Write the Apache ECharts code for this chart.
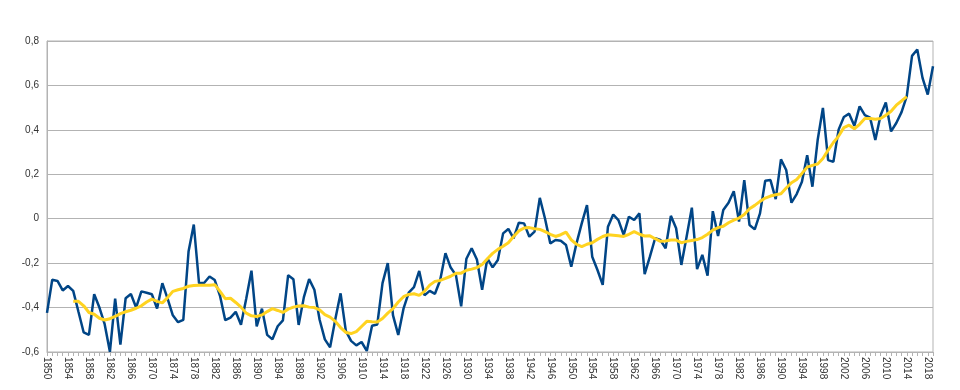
<!DOCTYPE html>
<html>
<head>
<meta charset="utf-8">
<script src="https://cdn.jsdelivr.net/npm/echarts@6/dist/echarts.min.js"></script>
<style>
html,body{margin:0;padding:0;background:#fff;}
#c{width:960px;height:390px;}
</style>
</head>
<body>
<div id="c"></div>
<script>
const firstYear = 1850;
const lastYear = 2019;
const years = [];
for (let y = firstYear; y <= lastYear; y++) years.push(String(y));

// Annual anomaly (blue), 1850-2019
const annual1850s = [-0.424,-0.275,-0.280,-0.323,-0.303,-0.325,-0.419,-0.512,-0.523,-0.340];
const annual1860s = [-0.400,-0.475,-0.599,-0.360,-0.567,-0.358,-0.339,-0.400,-0.327,-0.333];
const annual1870s = [-0.340,-0.404,-0.290,-0.360,-0.435,-0.466,-0.455,-0.148,-0.026,-0.290];
const annual1880s = [-0.288,-0.260,-0.276,-0.347,-0.457,-0.445,-0.419,-0.477,-0.360,-0.234];
const annual1890s = [-0.485,-0.405,-0.523,-0.543,-0.484,-0.458,-0.254,-0.272,-0.478,-0.353];
const annual1900s = [-0.272,-0.320,-0.455,-0.543,-0.579,-0.452,-0.336,-0.505,-0.550,-0.570];
const annual1910s = [-0.555,-0.595,-0.482,-0.476,-0.290,-0.200,-0.435,-0.523,-0.405,-0.333];
const annual1920s = [-0.308,-0.235,-0.345,-0.325,-0.338,-0.276,-0.155,-0.220,-0.254,-0.394];
const annual1930s = [-0.180,-0.133,-0.184,-0.320,-0.178,-0.219,-0.186,-0.066,-0.046,-0.088];
const annual1940s = [-0.018,-0.021,-0.081,-0.058,0.094,0.000,-0.111,-0.096,-0.099,-0.118];
const annual1950s = [-0.216,-0.111,-0.021,0.061,-0.171,-0.231,-0.298,-0.036,0.019,-0.006];
const annual1960s = [-0.073,0.009,-0.006,0.024,-0.249,-0.171,-0.088,-0.096,-0.133,0.013];
const annual1970s = [-0.043,-0.208,-0.081,0.050,-0.227,-0.163,-0.256,0.034,-0.078,0.039];
const annual1980s = [0.072,0.124,-0.013,0.174,-0.028,-0.048,0.024,0.171,0.174,0.088];
const annual1990s = [0.267,0.219,0.072,0.111,0.166,0.286,0.144,0.354,0.499,0.264];
const annual2000s = [0.256,0.401,0.458,0.473,0.418,0.506,0.466,0.455,0.354,0.466];
const annual2010s = [0.523,0.393,0.431,0.480,0.552,0.733,0.762,0.634,0.559,0.686];

// Smoothed curve (yellow), 1855-2014
const smooth1850s = [null,null,null,null,null,-0.371,-0.372,-0.392,-0.422,-0.430];
const smooth1860s = [-0.448,-0.456,-0.450,-0.440,-0.427,-0.419,-0.412,-0.403,-0.392,-0.375];
const smooth1870s = [-0.362,-0.372,-0.379,-0.355,-0.327,-0.320,-0.314,-0.304,-0.301,-0.300];
const smooth1880s = [-0.300,-0.300,-0.297,-0.327,-0.360,-0.358,-0.377,-0.398,-0.425,-0.437];
const smooth1890s = [-0.440,-0.433,-0.418,-0.405,-0.413,-0.422,-0.407,-0.398,-0.393,-0.392];
const smooth1900s = [-0.398,-0.400,-0.410,-0.432,-0.443,-0.462,-0.490,-0.512,-0.517,-0.508];
const smooth1910s = [-0.485,-0.462,-0.464,-0.465,-0.449,-0.425,-0.405,-0.375,-0.351,-0.341];
const smooth1920s = [-0.338,-0.345,-0.327,-0.299,-0.282,-0.278,-0.269,-0.259,-0.246,-0.245];
const smooth1930s = [-0.232,-0.227,-0.220,-0.206,-0.180,-0.156,-0.138,-0.124,-0.108,-0.080];
const smooth1940s = [-0.055,-0.042,-0.040,-0.045,-0.048,-0.058,-0.070,-0.080,-0.072,-0.060];
const smooth1950s = [-0.095,-0.115,-0.126,-0.115,-0.108,-0.093,-0.080,-0.072,-0.074,-0.077];
const smooth1960s = [-0.080,-0.070,-0.058,-0.070,-0.078,-0.077,-0.090,-0.102,-0.100,-0.096];
const smooth1970s = [-0.096,-0.108,-0.102,-0.098,-0.094,-0.085,-0.070,-0.051,-0.040,-0.034];
const smooth1980s = [-0.018,-0.006,0.003,0.019,0.045,0.060,0.078,0.093,0.102,0.108];
const smooth1990s = [0.112,0.138,0.162,0.177,0.204,0.232,0.240,0.246,0.271,0.309];
const smooth2000s = [0.343,0.372,0.410,0.421,0.405,0.425,0.451,0.451,0.448,0.451];
const smooth2010s = [0.466,0.484,0.511,0.530,0.550,null,null,null,null,null];

const yTicks = [-0.6,-0.4,-0.2,0,0.2,0.4,0.6,0.8];

const annual = [].concat(annual1850s,annual1860s,annual1870s,annual1880s,annual1890s,annual1900s,
  annual1910s,annual1920s,annual1930s,annual1940s,annual1950s,annual1960s,annual1970s,annual1980s,
  annual1990s,annual2000s,annual2010s);
const smooth = [].concat(smooth1850s,smooth1860s,smooth1870s,smooth1880s,smooth1890s,smooth1900s,
  smooth1910s,smooth1920s,smooth1930s,smooth1940s,smooth1950s,smooth1960s,smooth1970s,smooth1980s,
  smooth1990s,smooth2000s,smooth2010s);

const chart = echarts.init(document.getElementById('c'), null, {renderer: 'canvas'});
const font = '"Liberation Sans", Arial, sans-serif';
chart.setOption({
  animation: false,
  backgroundColor: '#ffffff',
  grid: {left: 47, right: 27, top: 41, bottom: 38, show: true, borderColor: '#b3b3b3', borderWidth: 1},
  xAxis: {
    type: 'category',
    data: years,
    boundaryGap: false,
    axisLine: {show: true, onZero: false, lineStyle: {color: '#b3b3b3', width: 1}},
    axisTick: {show: true, interval: 0, length: 4, lineStyle: {color: '#b3b3b3'}},
    axisLabel: {interval: 3, rotate: -90, fontSize: 10, color: '#333333', fontFamily: font, margin: 5},
    splitLine: {show: false}
  },
  yAxis: {
    type: 'value',
    min: yTicks[0],
    max: yTicks[yTicks.length - 1],
    interval: 0.2,
    axisLine: {show: true, lineStyle: {color: '#b3b3b3', width: 1}},
    axisTick: {show: false},
    axisLabel: {
      fontSize: 10, color: '#333333', fontFamily: font, margin: 8,
      formatter: v => String(Math.round(v * 10) / 10).replace('.', ',')
    },
    splitLine: {show: true, lineStyle: {color: '#b3b3b3', width: 1}}
  },
  series: [
    {
      type: 'line', data: annual, symbol: 'none', smooth: false,
      lineStyle: {color: '#004586', width: 2.5}, z: 2
    },
    {
      type: 'line', data: smooth, symbol: 'none', smooth: false, connectNulls: false,
      lineStyle: {color: '#ffd320', width: 3}, z: 3
    }
  ]
});
</script>
</body>
</html>
